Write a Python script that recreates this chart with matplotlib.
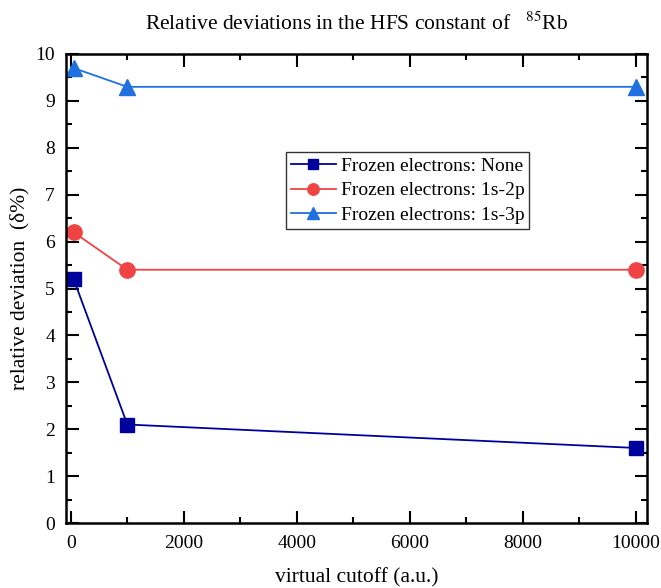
import matplotlib
matplotlib.use('Agg')
import matplotlib.pyplot as plt
from matplotlib.ticker import MultipleLocator

plt.rcParams['font.family'] = ['Liberation Serif', 'DejaVu Serif']
plt.rcParams['mathtext.fontset'] = 'stix'

# data
cutoff = [50, 1000, 10000]
dev_none = [5.2, 2.1, 1.6]
dev_1s2p = [6.2, 5.4, 5.4]
dev_1s3p = [9.7, 9.3, 9.3]
labels = ['Frozen electrons: None', 'Frozen electrons: 1s-2p', 'Frozen electrons: 1s-3p']

fig = plt.figure(figsize=(6.61, 5.88), dpi=100)
ax = fig.add_axes([66 / 661, 65 / 588, 581 / 661, 469 / 588])

ax.plot(cutoff, dev_none, color='#00009C', marker='s', markersize=10, lw=1.3, label=labels[0])
ax.plot(cutoff, dev_1s2p, color='#F04444', marker='o', markersize=11, lw=1.3, label=labels[1])
ax.plot(cutoff, dev_1s3p, color='#1F70E0', marker='^', markersize=12, lw=1.3, label=labels[2])

ax.set_xlim(-85, 10195)
ax.set_ylim(0, 10)
ax.xaxis.set_major_locator(MultipleLocator(2000))
ax.xaxis.set_minor_locator(MultipleLocator(1000))
ax.yaxis.set_major_locator(MultipleLocator(1))
ax.yaxis.set_minor_locator(MultipleLocator(0.5))
ax.tick_params(which='both', direction='in', top=True, right=True, labelsize=14, width=1.5)
ax.tick_params(which='major', length=9)
ax.tick_params(which='minor', length=4.5)
ax.tick_params(axis='x', pad=9)
ax.tick_params(axis='y', pad=8)
for s in ax.spines.values():
    s.set_linewidth(1.8)

ax.set_xlabel('virtual cutoff (a.u.)', fontsize=15.5, labelpad=11)
ax.set_ylabel('relative deviation  (δ%)', fontsize=15.5, labelpad=4)
ax.set_title(r'Relative deviations in the HFS constant of   $^{85}$Rb',
             fontsize=15.5, pad=17)

leg = ax.legend(loc='upper left', bbox_to_anchor=(0.379, 0.79), fontsize=14,
                frameon=True, fancybox=False, edgecolor='black', handlelength=2.3,
                borderpad=0.25, labelspacing=0.35, handletextpad=0.25, markerscale=0.75,
                borderaxespad=0)
leg.get_frame().set_linewidth(1.0)

fig.savefig('out.png', dpi=100)
